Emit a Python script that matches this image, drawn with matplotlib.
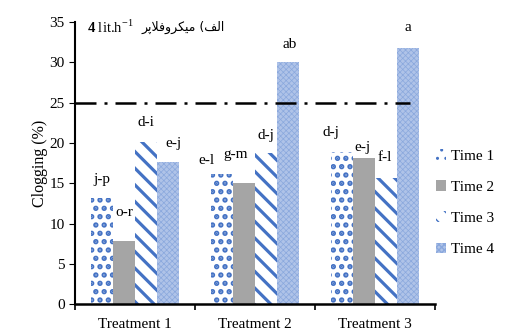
import numpy as np
import matplotlib
matplotlib.use("Agg")
from matplotlib import pyplot as plt

plt.rcParams['font.family'] = ['Liberation Serif', 'DejaVu Sans']
plt.rcParams['mathtext.fontset'] = 'custom'
plt.rcParams['mathtext.rm'] = 'Liberation Serif'
plt.rcParams['mathtext.bf'] = 'Liberation Serif:bold'

#data
treatments = ["Treatment 1", "Treatment 2", "Treatment 3"]
series = ["Time 1", "Time 2", "Time 3", "Time 4"]
time1 = [13.2, 16.1, 18.9]
time2 = [7.8, 15.0, 18.1]
time3 = [20.1, 18.7, 15.6]
time4 = [17.7, 30.0, 31.8]
letters = [["j-p", "e-l", "d-j"],
           ["o-r", "g-m", "e-j"],
           ["d-i", "d-j", "f-l"],
           ["e-j", "ab", "a"]]
limit = 25

# label nudges in points (dx, dy above bar top)
nudge = [[(0, 13), (-11, 10), (-8, 14)],
         [(0, 21), (-6, 21), (-1, 8)],
         [(0, 14), (0, 13), (-1, 15)],
         [(4, 13), (1, 13), (0, 15)]]

blue = "#4472C4"
styles = [dict(color="white", edgecolor=blue, hatch="..", hlw=2.6),
          dict(color="#A5A5A5", edgecolor="#A5A5A5", hatch=None, hlw=1.0),
          dict(color="white", edgecolor=blue, hatch="\\\\", hlw=2.3),
          dict(color="#AFC3E8", edgecolor="#8AA8DD", hatch="xxxxxx", hlw=0.5)]

fig = plt.figure(figsize=(5.10, 3.36), dpi=100)
ax = fig.add_axes([0.147, 0.095, 0.706, 0.839])

x = np.arange(len(treatments))
w = 0.1833
vals = [time1, time2, time3, time4]
for k in range(4):
    st = styles[k]
    bars = ax.bar(x + (k - 1.5) * w, vals[k], w, color=st["color"], edgecolor=st["edgecolor"],
                  hatch=st["hatch"], linewidth=0, label=series[k], zorder=2)
    for b in bars:
        if hasattr(b, "set_hatch_linewidth"):
            b.set_hatch_linewidth(st["hlw"])
    for j, b in enumerate(bars):
        dx, dy = nudge[k][j]
        ax.annotate(letters[k][j], (b.get_x() + b.get_width() / 2, b.get_height()),
                    xytext=(dx, dy), textcoords="offset points", ha="center", va="center",
                    fontsize=11)

ax.plot([-0.5, 2.29], [limit, limit], color="black", lw=1.8,
        linestyle=(0, (8.4, 3.2, 1.2, 3.2)), zorder=3)

ax.set_xlim(-0.5, 2.5)
ax.set_ylim(0, 35)
ax.set_yticks(np.arange(0, 36, 5))
ax.set_xticks(x)
ax.set_xticklabels(treatments, fontsize=11)
ax.set_xticks([-0.5, 0.5, 1.5, 2.5], minor=True)
ax.tick_params(axis="x", which="major", length=0, pad=10)
ax.tick_params(axis="x", which="minor", length=4, width=1.2)
ax.tick_params(axis="y", length=4, width=0.8, labelsize=11)
ax.set_ylabel("Clogging (%)", fontsize=11.5, labelpad=1)
ax.spines["top"].set_visible(False)
ax.spines["right"].set_visible(False)
ax.spines["left"].set_linewidth(1.5)
ax.spines["bottom"].set_linewidth(1.8)

# title: bold 4, lit.h^-1, then persian (visual order, shaped glyphs)
ax.text(0.033, 0.982, r"$\mathbf{4}$ lit.h$^{-1}$", transform=ax.transAxes,
        fontsize=10.5, va="center", ha="left")
persian = "\uFEAE\uFB58\uFEFC\uFED3\uFEED\uFEAE\uFB91\uFBFF\uFEE3 (\uFED2\uFEDF\uFE8D"
ax.text(0.185, 0.982, persian, transform=ax.transAxes, fontsize=9,
        va="center", ha="left", family=["DejaVu Sans"])

ax.legend(loc="center left", bbox_to_anchor=(0.985, 0.36), frameon=False,
          fontsize=11, handlelength=0.7, handleheight=0.7, handletextpad=0.3,
          labelspacing=1.15, borderaxespad=0)

plt.savefig("out.png", dpi=100)
